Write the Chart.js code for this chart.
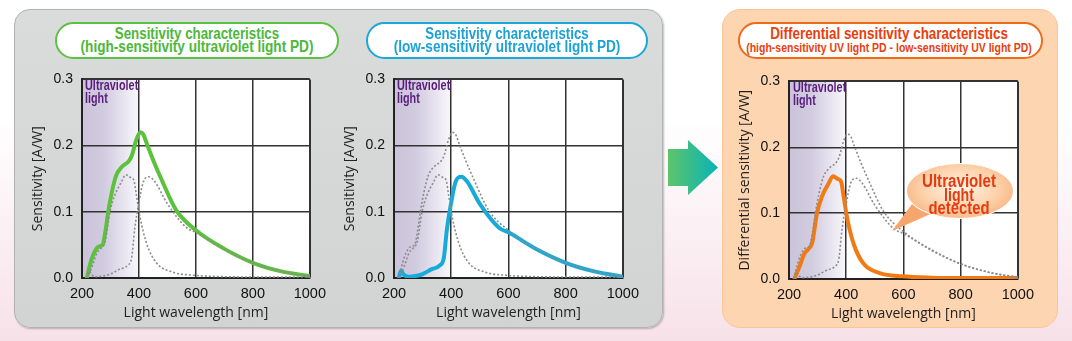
<!DOCTYPE html>
<html>
<head>
<meta charset="utf-8">
<script src="https://cdn.jsdelivr.net/npm/chart.js@4.4.1/dist/chart.umd.min.js"></script>
<style>
  body {
    margin: 0;
    width: 1072px;
    height: 341px;
    position: relative;
    overflow: hidden;
    background: linear-gradient(to bottom, #ffffff 0%, #ffffff 35%, #f7e1e9 100%);
    font-family: "Liberation Sans", Arial, sans-serif;
  }
  .abs { position: absolute; }
  .panel-grey {
    left: 14px; top: 9px; width: 647px; height: 317px;
    border-radius: 16px;
    background: linear-gradient(to bottom, #dadbdb, #d2d3d3);
    border: 1px solid #b3b3b3;
    box-shadow: 1px 1px 2px rgba(0,0,0,0.25);
  }
  .panel-orange {
    left: 722px; top: 9px; width: 334px; height: 317px;
    border-radius: 18px;
    background: #fdd5b1;
    border: 1px solid #f9c59a;
  }
  .pill {
    height: 33px;
    border-radius: 19px;
    background: #fff;
    border: 2px solid;
  }
  .arrow {
    left: 668px; top: 140px; width: 50px; height: 55px;
    background: linear-gradient(to right, #5ec46a, #07b4b8);
    clip-path: polygon(0 9px, 20px 9px, 20px 0, 50px 27.5px, 20px 55px, 20px 46px, 0 46px);
  }
  .txt {
    position: absolute;
    white-space: nowrap;
    font-weight: bold;
    line-height: 1;
  }
  .bubble {
    left: 906px; top: 163px; width: 106px; height: 54px;
    border-radius: 50%;
    background: radial-gradient(ellipse at 50% 45%, #fff4e8 0%, #fdd2ab 50%, #f5a066 100%);
    border: 1px solid #fff;
  }
  .tail {
    left: 890px; top: 200px; width: 45px; height: 33px;
    background: #f6a66c;
    clip-path: polygon(25px 0, 45px 12px, 2px 31px);
  }
  canvas { position: absolute; }
</style>
</head>
<body>
<div class="abs panel-grey"></div>
<div class="abs panel-orange"></div>
<div class="abs arrow"></div>

<div class="abs pill" style="left:55px; top:22px; width:280px; border-color:#5cc243;"></div>
<div class="abs pill" style="left:366px; top:22px; width:278px; border-color:#1ba7d8;"></div>
<div class="abs pill" style="left:738px; top:22px; width:301px; border-color:#ef6a1a;"></div>

<canvas id="chartHigh" width="315" height="266" style="left:18px; top:62px;"></canvas>
<canvas id="chartLow" width="316" height="266" style="left:330px; top:62px;"></canvas>
<canvas id="chartDiff" width="316" height="265" style="left:725px; top:64px;"></canvas>

<div class="abs tail"></div>
<div class="abs bubble"></div>

<script>
// axis ticks
const wavelengthTicks = [200, 400, 600, 800, 1000];
const sensTicks = [0.0, 0.1, 0.2, 0.3];
const uvRange = [200, 400];

// high-sensitivity UV PD
const highWl = [217, 225, 235, 250, 262, 272, 282, 292, 305, 320, 340, 365, 375, 390, 405, 415, 430, 450, 480, 530, 600, 700, 800, 900, 1000];
const highVal = [0, 0.015, 0.030, 0.044, 0.048, 0.050, 0.070, 0.100, 0.130, 0.155, 0.168, 0.177, 0.185, 0.208, 0.220, 0.217, 0.200, 0.178, 0.148, 0.103, 0.072, 0.044, 0.023, 0.010, 0.003];

// low-sensitivity UV PD
const lowWl = [217, 225, 234, 250, 275, 300, 330, 360, 374, 385, 399, 416, 435, 455, 500, 567, 600, 700, 800, 900, 1000];
const lowVal = [0.001, 0.011, 0.005, 0.002, 0.003, 0.006, 0.013, 0.019, 0.030, 0.074, 0.112, 0.146, 0.153, 0.146, 0.112, 0.076, 0.069, 0.043, 0.023, 0.010, 0.002];

// difference (high - low)
const diffWl = [219, 236, 253, 267, 281, 298, 315, 337, 354, 370, 382, 391, 404, 427, 461, 517, 596, 700, 800, 1000];
const diffVal = [0, 0.018, 0.038, 0.045, 0.055, 0.100, 0.125, 0.144, 0.156, 0.152, 0.148, 0.125, 0.091, 0.052, 0.023, 0.009, 0.004, 0.002, 0.0015, 0.0015];

const toPoints = (wl, val) => wl.map((x, i) => ({ x: x, y: val[i] }));

const high = { pts: toPoints(highWl, highVal), color: '#5cc23e' };
const low = { pts: toPoints(lowWl, lowVal), color: '#18aad9' };
const diff = { pts: toPoints(diffWl, diffVal), color: '#f27a12' };

// white plot + UV band
const plotBg = {
  id: 'plotBg',
  beforeDraw(chart) {
    const { ctx, chartArea: a, scales: { x } } = chart;
    ctx.save();
    ctx.fillStyle = '#fff';
    ctx.fillRect(a.left, a.top, a.width, a.height);
    const x0 = x.getPixelForValue(uvRange[0]);
    const x1 = x.getPixelForValue(uvRange[1]);
    const g = ctx.createLinearGradient(x0, 0, x1, 0);
    g.addColorStop(0, '#cac3da');
    g.addColorStop(0.4, '#d2cce0');
    g.addColorStop(1, '#f9f8fc');
    ctx.fillStyle = g;
    ctx.fillRect(x0, a.top, x1 - x0, a.height);
    ctx.restore();
  }
};

function makeChart(id, solid, dotted, yTitle) {
  const ds = dotted.map(s => ({
    data: s.pts,
    borderColor: '#8c8c8c',
    borderWidth: 1.6,
    borderDash: [2, 2],
    pointRadius: 0,
    cubicInterpolationMode: 'monotone'
  }));
  ds.push({
    data: solid.pts,
    borderColor: solid.color,
    borderWidth: 4,
    borderCapStyle: 'round',
    borderJoinStyle: 'round',
    pointRadius: 0,
    cubicInterpolationMode: 'monotone'
  });

  return new Chart(document.getElementById(id), {
    type: 'line',
    data: { datasets: ds },
    plugins: [plotBg],
    options: {
      responsive: false,
      animation: false,
      layout: { padding: { top: 8, right: 14, left: 0, bottom: 0 } },
      plugins: { legend: { display: false }, tooltip: { enabled: false } },
      scales: {
        x: {
          type: 'linear',
          min: 200, max: 1000,
          afterBuildTicks: s => { s.ticks = wavelengthTicks.map(v => ({ value: v })); },
          afterFit: s => { s.height = 50; },
          ticks: {
            padding: 7,
            color: '#111',
            font: { family: 'Liberation Sans', size: 14.5 },
            maxRotation: 0,
            callback: v => String(v)
          },
          grid: {
            drawTicks: false,
            color: '#333',
            lineWidth: c => (c.tick && c.tick.value === 1000 ? 2 : 1.5)
          },
          border: { color: '#222', width: 2 },
          title: {
            display: true,
            text: 'Light wavelength [nm]',
            color: '#222',
            font: { family: 'Open Sans', size: 14 },
            padding: { top: 0, bottom: 6.5 }
          }
        },
        y: {
          min: 0, max: 0.3,
          afterBuildTicks: s => { s.ticks = sensTicks.map(v => ({ value: v })); },
          afterFit: s => { s.width = 64; },
          ticks: {
            padding: 9,
            color: '#111',
            font: { family: 'Liberation Sans', size: 14 },
            callback: v => v.toFixed(1)
          },
          grid: {
            drawTicks: false,
            color: '#333',
            lineWidth: c => (c.tick && c.tick.value === 0.3 ? 2 : 1.5)
          },
          border: { color: '#222', width: 2 },
          title: {
            display: true,
            text: yTitle,
            color: '#222',
            font: { family: 'Open Sans', size: 14 },
            padding: { top: 11.5, bottom: 0 }
          }
        }
      }
    }
  });
}

makeChart('chartHigh', high, [diff, low], 'Sensitivity [A/W]');
makeChart('chartLow', low, [high, diff], 'Sensitivity [A/W]');
makeChart('chartDiff', diff, [high, low], 'Differential sensitivity [A/W]');

// text labels, squeezed to condensed width
function label(text, x, cy, width, size, color, anchor) {
  const d = document.createElement('div');
  d.className = 'txt';
  d.textContent = text;
  d.style.fontSize = size + 'px';
  d.style.color = color;
  d.style.top = cy + 'px';
  d.style.left = x + 'px';
  d.style.zIndex = 5;
  document.body.appendChild(d);
  const w = d.offsetWidth;
  const k = width / w;
  if (anchor === 'left') {
    d.style.transformOrigin = '0 50%';
    d.style.transform = 'translateY(-50%) scaleX(' + k + ')';
  } else {
    d.style.transformOrigin = '50% 50%';
    d.style.transform = 'translate(-50%,-50%) scaleX(' + k + ')';
  }
}

label('Sensitivity characteristics', 197, 33.5, 164, 16, '#4cb83a');
label('(high-sensitivity ultraviolet light PD)', 196.5, 47, 233, 16, '#4cb83a');
label('Sensitivity characteristics', 506.5, 33.5, 163, 16, '#1ca2d5');
label('(low-sensitivity ultraviolet light PD)', 506.5, 47, 227, 16, '#1ca2d5');
label('Differential sensitivity characteristics', 889, 33.5, 238, 16, '#e8400e');
label('(high-sensitivity UV light PD - low-sensitivity UV light PD)', 889, 47.5, 286, 13.5, '#e8400e');

const uvColor = '#5a1d7c';
[[85, 84], [397, 84], [793, 86]].forEach(p => {
  label('Ultraviolet', p[0], p[1], 53, 15, uvColor, 'left');
  label('light', p[0], p[1] + 13, 23, 15, uvColor, 'left');
});

label('Ultraviolet', 959, 181, 74, 18, '#e63b0f');
label('light', 959, 194.5, 30, 18, '#e63b0f');
label('detected', 959, 208, 61, 18, '#e63b0f');
</script>
</body>
</html>
